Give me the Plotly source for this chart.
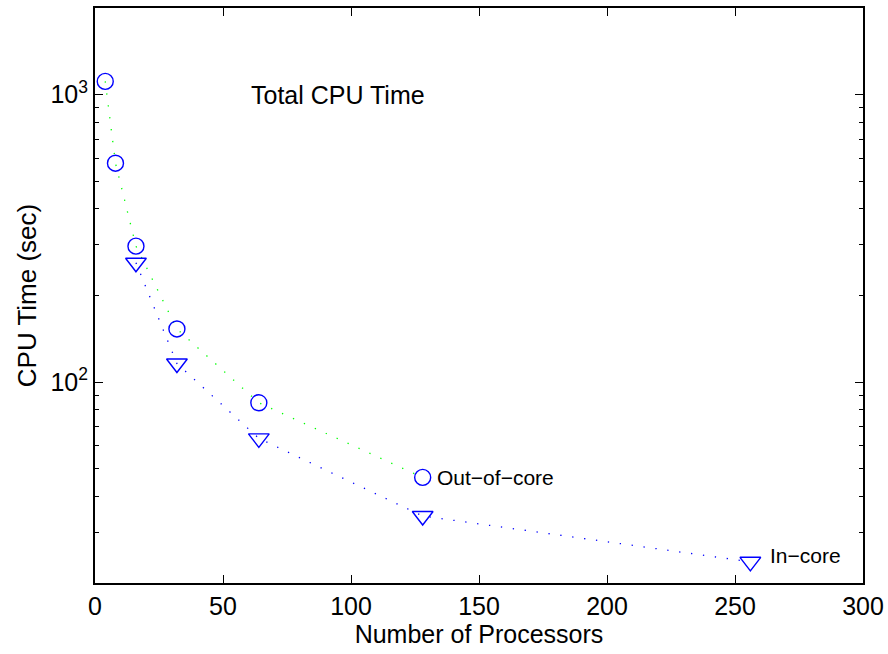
import math
import plotly.graph_objects as go

# Data
out_procs = [4, 8, 16, 32, 64, 128]
out_time = [1111, 577, 297, 153, 84.7, 46.6]

in_procs = [16, 32, 64, 128, 256]
in_time = [260, 116, 63.7, 34.2, 23.7]

x_ticks = [0, 50, 100, 150, 200, 250, 300]
y_major = [100, 1000]
y_major_text = ["10<sup>2</sup>", "10<sup>3</sup>"]
y_minor = [20, 30, 40, 50, 60, 70, 80, 90, 200, 300, 400, 500, 600, 700, 800, 900, 2000]

FONT = "Liberation Sans, Arial, Helvetica, sans-serif"
BLUE = "#0000ff"
GREEN = "#00ff00"

fig = go.Figure()

fig.add_trace(go.Scatter(x=out_procs, y=out_time, mode="lines",
                         line=dict(color=GREEN, width=1.3, dash="1.3px,10.7px"),
                         showlegend=False, hoverinfo="skip"))
fig.add_trace(go.Scatter(x=in_procs, y=in_time, mode="lines",
                         line=dict(color=BLUE, width=1.3, dash="1.3px,10.7px"),
                         showlegend=False, hoverinfo="skip"))
fig.add_trace(go.Scatter(x=out_procs, y=out_time, mode="markers",
                         marker=dict(symbol="circle-open", size=16, color=BLUE,
                                     line=dict(width=1.4, color=BLUE)),
                         showlegend=False))
fig.add_trace(go.Scatter(x=in_procs, y=in_time, mode="markers",
                         marker=dict(symbol="triangle-down-open", size=18, color=BLUE,
                                     line=dict(width=1.4, color=BLUE)),
                         showlegend=False))

fig.add_annotation(x=60.3, y=3.0, xref="x", yref="y", text="Total CPU Time",
                   showarrow=False, xanchor="left", yanchor="middle",
                   font=dict(family=FONT, size=25, color="black"))
fig.add_annotation(x=132.8, y=math.log10(out_time[-1]), xref="x", yref="y",
                   text="Out\u2212of\u2212core", showarrow=False,
                   xanchor="left", yanchor="middle",
                   font=dict(family=FONT, size=21, color="black"))
fig.add_annotation(x=262.8, y=math.log10(25.0), xref="x", yref="y",
                   text="In\u2212core", showarrow=False,
                   xanchor="left", yanchor="middle",
                   font=dict(family=FONT, size=21, color="black"))

fig.update_xaxes(range=[0, 300], tickmode="array", tickvals=x_ticks,
                 ticks="inside", ticklen=8, tickwidth=1, tickcolor="black",
                 showline=True, linecolor="black", linewidth=2, mirror="ticks",
                 showgrid=False, zeroline=False,
                 tickfont=dict(family=FONT, size=25, color="black"),
                 title=dict(text="Number of Processors",
                            font=dict(family=FONT, size=25, color="black"),
                            standoff=4))
fig.update_yaxes(type="log", range=[math.log10(20), math.log10(2000)],
                 tickmode="array", tickvals=y_major, ticktext=y_major_text,
                 ticks="inside", ticklen=8, tickwidth=1, tickcolor="black",
                 minor=dict(tickmode="array", tickvals=y_minor, ticks="inside",
                            ticklen=4, tickwidth=1, tickcolor="black", showgrid=False),
                 showline=True, linecolor="black", linewidth=2, mirror="ticks",
                 showgrid=False, zeroline=False,
                 tickfont=dict(family=FONT, size=25, color="black"),
                 title=dict(text="CPU Time (sec)",
                            font=dict(family=FONT, size=26, color="black"),
                            standoff=6))

fig.update_layout(width=888, height=654,
                  margin=dict(l=95, r=25, t=8, b=71, autoexpand=False),
                  paper_bgcolor="white", plot_bgcolor="white",
                  showlegend=False)

fig.write_html("out.html")
